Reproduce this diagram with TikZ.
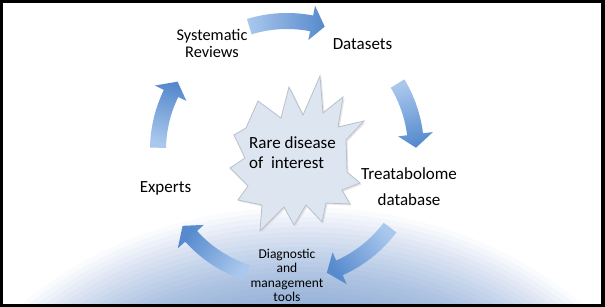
\documentclass[tikz,border=0pt]{standalone}
\usepackage{fontspec}
\setmainfont{Carlito}
\definecolor{arrlight}{RGB}{170,200,237}
\definecolor{arrdark}{RGB}{86,138,205}
\definecolor{glowc}{RGB}{130,165,212}
\definecolor{starfill}{RGB}{220,229,240}
\definecolor{staredge}{RGB}{185,192,204}
\newcommand{\cyclearrow}[2]{%
  \pgfmathsetmacro{\hb}{#2+6}%
  \pgfmathsetmacro{\sa}{(#1+#2)/2}%
  \shade[left color=arrlight, right color=arrdark, shading angle=\sa]
    (#1:137) arc[start angle=#1, end angle=\hb, radius=137pt]
    -- (\hb:147) -- (#2:129) -- (\hb:112) -- (\hb:121)
    arc[start angle=\hb, end angle=#1, radius=121pt] -- cycle;}
\begin{document}
\begin{tikzpicture}[x=1pt,y=1pt,
  lbl/.style={font=\fontsize{17}{26}\selectfont, align=center, inner sep=0pt},
  starpath/.style={insert path={(320,76) -- (323,113) -- (343,97) -- (338,127) -- (364,121) -- (346,140) -- (347,172) -- (360,183) -- (342,190) -- (350,204) -- (326,203) -- (322,222) -- (306,205) -- (294,225) -- (284,207) -- (260,231) -- (262,205) -- (238,200) -- (248,186) -- (230,168) -- (245,158) -- (234,135) -- (246,128) -- (258,101) -- (281,118) -- (289,87) -- (303,115) -- cycle}}]
\useasboundingbox (0,0) rectangle (605,307);
\fill[black] (0,0) rectangle (605,307);
\fill[white] (3,3) rectangle (601,304);
% soft bluish glow at the bottom
\begin{scope}
  \clip (3,3) rectangle (601,304);
  \foreach \k in {0,...,19} {
    \pgfmathsetmacro{\op}{0.045+0.003*\k}
    \pgfmathsetmacro{\ax}{380-5*\k}
    \pgfmathsetmacro{\by}{300-5*\k}
    \fill[glowc, opacity=\op] (302,-200) ellipse [x radius=\ax pt, y radius=\by pt];
  }
\end{scope}
% cycle arrows
\begin{scope}[shift={(287,157)}]
  \cyclearrow{107}{73}
  \cyclearrow{31}{1}
  \cyclearrow{-37}{-72}
  \cyclearrow{-108}{-144}
  \cyclearrow{179}{148}
\end{scope}
% starburst
\begin{scope}[shift={(0,307)}, yscale=-1]
  \fill[gray!40, opacity=.5, shift={(1.5,1.5)}, starpath];
  \filldraw[fill=starfill, draw=staredge, line width=.8pt, starpath];
\end{scope}
% labels
\node[lbl, font=\fontsize{16.3}{17}\selectfont] (sr) at (212,263.5) {Systematic\\Reviews};
\node[lbl] (ds) at (362.5,263) {Datasets};
\node[lbl, font=\fontsize{17}{20}\selectfont, align=left, anchor=west] (rd) at (249,154) {Rare disease\\of\ \ interest};
\node[lbl] (tb) at (409,120) {Treatabolome\\database};
\node[lbl] (ex) at (165.5,119) {Experts};
\node[lbl, font=\fontsize{13.5}{14.3}\selectfont] (dm) at (287,31.5) {Diagnostic\\and\\management\\tools};
\end{tikzpicture}
\end{document}
